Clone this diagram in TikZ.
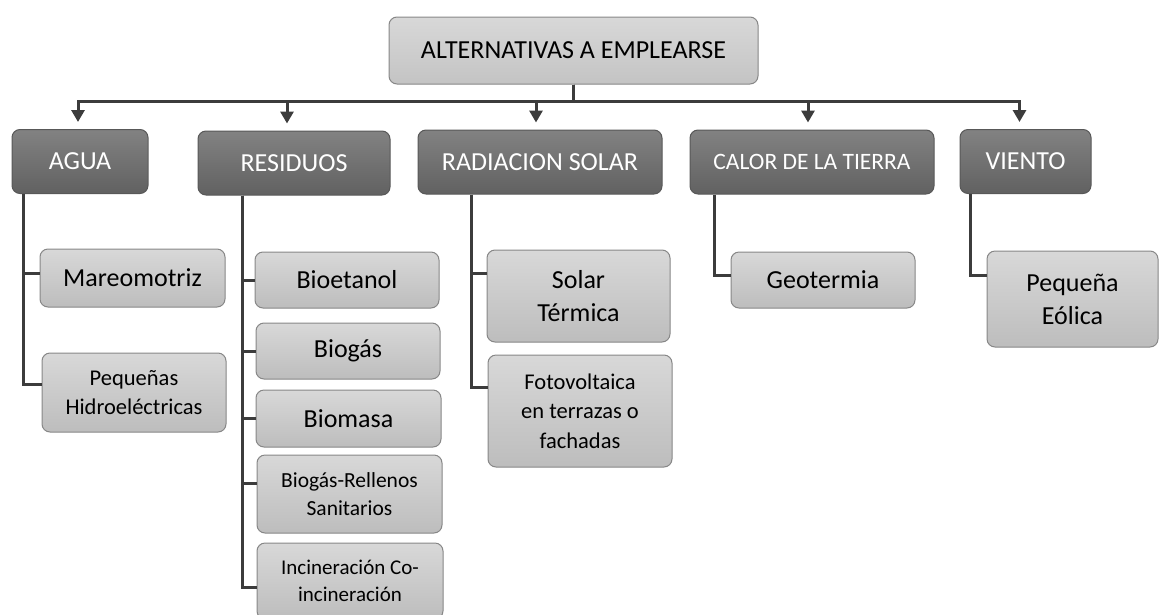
\documentclass[tikz,border=0pt]{standalone}
\usepackage{fontspec}
\setmainfont{Carlito}
\usetikzlibrary{arrows.meta}
\definecolor{linegray}{HTML}{3C3C3C}
\definecolor{catlight}{HTML}{828282}
\definecolor{catdark}{HTML}{616161}
\definecolor{catedge}{HTML}{585858}
\definecolor{itemlight}{HTML}{D8D8D8}
\definecolor{itemdark}{HTML}{BDBDBD}
\definecolor{itemedge}{HTML}{878787}

\begin{document}
\begin{tikzpicture}[x=1pt,y=-1pt,>={Triangle[width=13pt,length=12pt]},
    box/.style={rounded corners=8pt,line width=1pt,inner sep=2pt,align=center},
    rootbox/.style={box,draw=itemedge,top color=itemlight,bottom color=itemdark!90,
      minimum width=369pt,minimum height=67pt,font=\fontsize{26}{32}\selectfont},
    cat/.style={box,draw=catedge,top color=catlight,bottom color=catdark,text=white,
      minimum height=64pt,font=\fontsize{26}{32}\selectfont},
    item/.style={box,draw=itemedge,top color=itemlight,bottom color=itemdark,
      font=\fontsize{26}{33}\selectfont},
    small/.style={font=\fontsize{22.5}{29.5}\selectfont},
    link/.style={draw=linegray,line width=3pt}]
  \useasboundingbox (0,0) rectangle (1160,614);

  \node[rootbox] (root) at (573.5,50.5) {ALTERNATIVAS A EMPLEARSE};

  % categories
  \node[cat,minimum width=136pt] (agua) at (80,161.5) {AGUA};
  \node[cat,minimum width=192pt] (residuos) at (294,163) {RESIDUOS};
  \node[cat,minimum width=244pt] (radsol) at (540,162) {RADIACION SOLAR};
  \node[cat,minimum width=244pt,font=\fontsize{23.5}{28}\selectfont] (calor) at (812,162) {CALOR DE LA TIERRA};
  \node[cat,minimum width=131pt] (viento) at (1025.5,161.5) {VIENTO};

  \draw[link,->,shorten >=7pt] (root.south) -- ++(0,17) -| ([xshift=-2pt]agua.north);
  \draw[link,->,shorten >=7pt] (root.south) -- ++(0,17) -| ([xshift=-7pt]residuos.north);
  \draw[link,->,shorten >=7pt] (root.south) -- ++(0,17) -| ([xshift=-4pt]radsol.north);
  \draw[link,->,shorten >=7pt] (root.south) -- ++(0,17) -| ([xshift=-4pt]calor.north);
  \draw[link,->,shorten >=7pt] (root.south) -- ++(0,17) -| ([xshift=-6pt]viento.north);

  % agua
  \node[item,minimum width=185pt,minimum height=58pt] (mareo) at (132.5,278) {Mareomotriz};
  \node[item,small,minimum width=184pt,minimum height=79pt] (hidro) at (134,392.5) {Pequeñas\\Hidroeléctricas};
  \draw[link] ([xshift=12pt]agua.south west) |- ([yshift=5pt]mareo.west);
  \draw[link] ([xshift=12pt]agua.south west) |- ([yshift=8pt]hidro.west);

  % residuos
  \node[item,minimum width=184pt,minimum height=56pt] (bioetanol) at (347,280) {Bioetanol};
  \node[item,minimum width=184pt,minimum height=56pt] (biogas) at (348,351) {Biogás};
  \node[item,minimum width=185pt,minimum height=57pt] (biomasa) at (348.5,418.5) {Biomasa};
  \node[item,minimum width=185pt,minimum height=78pt,font=\fontsize{21.5}{27.5}\selectfont] (rellenos) at (349.5,494) {Biogás-Rellenos\\Sanitarios};
  \node[item,minimum width=186pt,minimum height=76pt,font=\fontsize{21}{27}\selectfont] (incin) at (350,581) {Incineración Co-\\incineración};
  \draw[link] ([xshift=45pt]residuos.south west) |- (bioetanol.west);
  \draw[link] ([xshift=45pt]residuos.south west) |- (biogas.west);
  \draw[link] ([xshift=45pt]residuos.south west) |- (biomasa.west);
  \draw[link] ([xshift=45pt]residuos.south west) |- ([yshift=11pt]rellenos.west);
  \draw[link] ([xshift=45pt]residuos.south west) |- ([yshift=-6pt]incin.west);

  % radiacion solar
  \node[item,minimum width=183pt,minimum height=92pt] (solar) at (578.5,296) {Solar\\Térmica};
  \node[item,small,minimum width=184pt,minimum height=112pt] (foto) at (580,411) {Fotovoltaica\\en terrazas o\\fachadas};
  \draw[link] ([xshift=54pt]radsol.south west) |- ([yshift=23pt]solar.west);
  \draw[link] ([xshift=54pt]radsol.south west) |- ([yshift=24pt]foto.west);

  % calor de la tierra, viento
  \node[item,minimum width=184pt,minimum height=56pt] (geo) at (823,280) {Geotermia};
  \node[item,minimum width=171pt,minimum height=96pt] (eolica) at (1072.5,299) {Pequeña\\Eólica};
  \draw[link] ([xshift=25pt]calor.south west) |- ([yshift=5pt]geo.west);
  \draw[link] ([xshift=11pt]viento.south west) |- ([yshift=24pt]eolica.west);
\end{tikzpicture}
\end{document}
